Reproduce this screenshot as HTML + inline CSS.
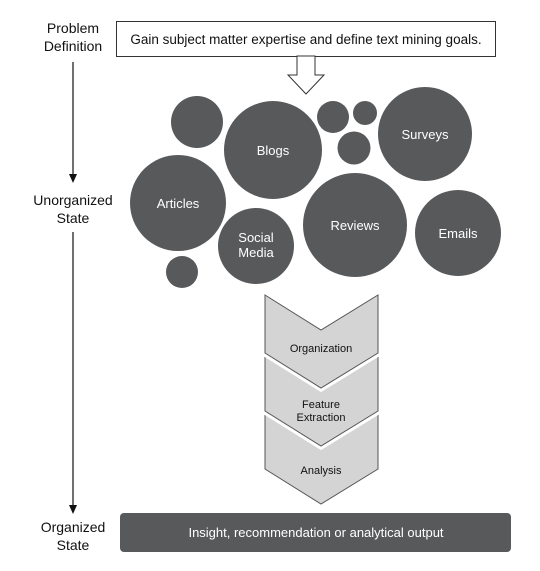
<!DOCTYPE html>
<html><head><style>body{margin:0;background:#fff}</style></head><body>
<svg width="540" height="566" xmlns="http://www.w3.org/2000/svg" font-family="Liberation Sans, Arial, sans-serif">
<g font-size="14" text-anchor="middle" fill="#111">
<text x="73" y="33">Problem</text><text x="73" y="51">Definition</text>
<text x="73" y="205">Unorganized</text><text x="73" y="223">State</text>
<text x="73" y="532">Organized</text><text x="73" y="550">State</text>
</g>
<g stroke="#111" stroke-width="1.2">
<line x1="73" y1="62" x2="73" y2="176"/><line x1="73" y1="232" x2="73" y2="506"/>
</g>
<polygon points="69,174 77,174 73,183" fill="#111"/>
<polygon points="69,505 77,505 73,514" fill="#111"/>
<rect x="116.5" y="21.5" width="379" height="35" fill="#fff" stroke="#333"/>
<text x="306" y="44" font-size="13.5" text-anchor="middle" fill="#111">Gain subject matter expertise and define text mining goals.</text>
<polygon points="297,56 315,56 315,75 324,75 306,94 288,75 297,75" fill="#fff" stroke="#333"/>
<g fill="#58595b">
<circle cx="197" cy="122" r="26"/><circle cx="273" cy="150" r="49"/>
<circle cx="333" cy="117" r="16"/><circle cx="365" cy="113" r="12"/>
<circle cx="354" cy="148" r="16.5"/><circle cx="425" cy="134" r="47"/>
<circle cx="178" cy="203" r="48"/><circle cx="256" cy="246" r="38"/>
<circle cx="355" cy="225" r="52"/><circle cx="458" cy="233" r="43"/>
<circle cx="182" cy="272" r="16"/>
</g>
<g fill="#fff" font-size="13" text-anchor="middle">
<text x="273" y="155">Blogs</text><text x="425" y="139">Surveys</text>
<text x="178" y="208">Articles</text><text x="256" y="242">Social</text><text x="256" y="257">Media</text>
<text x="355" y="230">Reviews</text><text x="458" y="238">Emails</text>
</g>
<g fill="#d4d4d4">
<polygon points="265,413 321,448 378,413 378,469 321,504 265,469" stroke="#fff" stroke-width="7"/>
<polygon points="265,413 321,448 378,413 378,469 321,504 265,469" stroke="#555" stroke-width="1"/>
<polygon points="265,355 321,390 378,355 378,411 321,446 265,411" stroke="#fff" stroke-width="7"/>
<polygon points="265,355 321,390 378,355 378,411 321,446 265,411" stroke="#555" stroke-width="1"/>
<polygon points="265,295 321,330 378,295 378,353 321,388 265,353" stroke="#fff" stroke-width="7"/>
<polygon points="265,295 321,330 378,295 378,353 321,388 265,353" stroke="#555" stroke-width="1"/>
</g>
<g font-size="11" text-anchor="middle" fill="#111">
<text x="321" y="352">Organization</text>
<text x="321" y="408">Feature</text><text x="321" y="421">Extraction</text>
<text x="321" y="474">Analysis</text>
</g>
<rect x="120" y="513" width="391" height="39" rx="4" fill="#58595b"/>
<text x="316" y="537" font-size="13" text-anchor="middle" fill="#fff">Insight, recommendation or analytical output</text>
</svg>
</body></html>
